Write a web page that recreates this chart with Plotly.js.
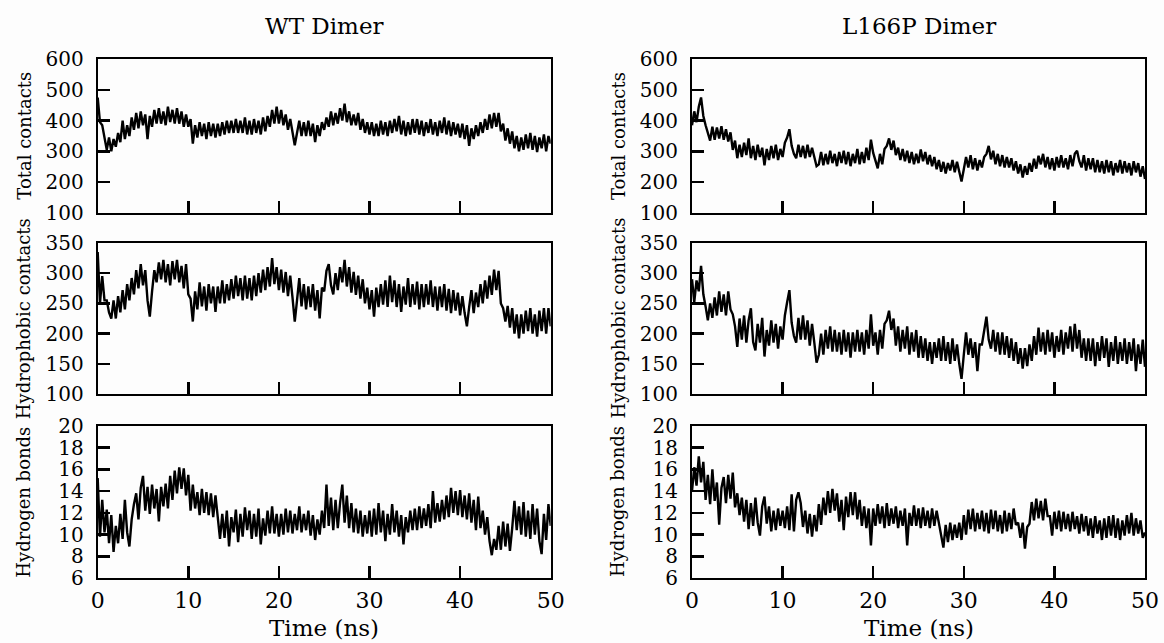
<!DOCTYPE html>
<html>
<head>
<meta charset="utf-8">
<script src="https://cdn.plot.ly/plotly-3.0.1.min.js"></script>
<style>html,body{margin:0;padding:0;background:#fdfdfd;}#chart{width:1164px;height:643px;}</style>
</head>
<body>
<div id="chart"></div>
<script>
// Sampling step of the trajectories (ns)
const timeStep = 0.25;

// WT Dimer — total contacts
const wtTotal = [
475,395,385,340,305,345,300,340,315,360,330,400,340,385,350,410,370,425,375,430,
385,420,340,415,380,435,390,440,390,430,385,445,395,435,390,440,390,430,380,420,
380,405,325,385,345,395,350,390,340,395,350,390,345,390,350,395,355,400,360,400,
360,405,360,400,360,410,355,400,355,405,360,400,355,410,365,415,380,435,390,445,
390,435,385,420,370,405,355,320,360,400,350,395,350,400,350,390,330,385,350,395,
370,410,380,430,385,425,390,440,400,455,395,430,385,420,385,425,370,405,360,395,
355,395,350,390,350,400,355,395,350,400,360,405,365,415,355,400,350,395,355,405,
360,405,355,400,350,395,360,405,355,395,350,400,360,410,355,400,350,395,355,390,
345,390,340,385,318,375,340,385,350,395,360,405,370,420,375,425,380,425,365,390,
335,375,325,365,310,350,300,345,305,355,310,360,305,350,298,345,310,355,300,350,325
];
// WT Dimer — hydrophobic contacts
const wtHydrophobic = [
335,250,295,255,255,235,225,255,225,262,235,272,240,282,255,292,265,305,275,315,
280,305,255,228,270,305,285,318,290,322,285,315,280,320,290,322,285,312,275,315,
265,258,220,270,240,285,245,278,238,282,250,278,236,278,250,288,250,282,255,290,
258,296,262,292,255,296,258,292,255,296,262,300,268,306,272,310,278,325,282,310,
272,306,268,302,262,296,260,220,255,292,245,282,240,278,244,282,238,272,225,276,
270,304,315,280,265,300,272,310,285,322,278,310,268,302,264,296,258,290,250,276,
240,272,228,276,244,282,248,288,244,296,252,288,244,282,236,278,248,292,244,282,
248,286,240,282,244,282,248,288,244,278,238,278,244,282,238,274,234,272,238,268,
230,262,234,212,244,272,234,268,244,282,250,288,258,296,264,306,272,304,250,242,
220,246,210,242,200,232,192,232,200,238,204,242,200,232,195,238,204,242,200,242,212
];
// WT Dimer — hydrogen bonds
const wtHbonds = [
15.2,9.8,13.2,10.2,12.3,9.2,11.8,8.4,10.8,9.2,11.9,9.6,13.2,10.2,8.9,11.4,12.8,13.8,11.4,14.3,
15.4,12.2,14.4,11.9,14.6,12.4,14.2,11.2,14.4,12.6,14.7,12.4,15.4,13.2,15.9,13.8,16.2,14.2,16.1,13.6,
15.5,12.2,14.6,12.4,13.9,11.8,14.2,12,13.9,11.8,13.8,11.6,13.6,11.4,9.6,11.9,9.7,12.2,8.9,11.6,
10.2,12.3,9.3,11.9,9.8,12.5,10.4,12.2,9.6,11.9,9.8,12.4,9.1,11.5,9.9,12.2,10.1,12.6,10.1,11.9,
9.8,11.9,10,12.4,10.2,12.2,10.1,11.9,10.4,12.6,10.2,11.9,10.4,12.2,9.9,11.8,9.5,11.4,10,12.2,
10.6,14.6,10.8,13.4,10.4,13.2,10.6,12.9,14.6,11.1,13.6,10.6,12.9,10.2,12.4,10.1,12.2,9.8,11.8,10.1,
12.2,9.8,12.4,10,12.9,10.2,12.2,9.4,11.9,10,12.8,10.2,12.2,9.8,11.8,9.1,11.6,10.2,12.2,10.4,
12.4,10.4,12.6,10.6,12.4,10.8,12.8,10.6,14,11.1,12.9,11.2,13.2,11.4,13.6,11.6,14.3,12,14,11.8,
14.1,11.6,13.6,11.4,13.8,11.1,13.2,10.4,13.5,10.6,12.2,10,11.6,9.4,8.1,9.6,8.6,10.8,8.6,11.2,
8.9,11,8.5,10.6,13.1,10.4,12.6,10,13,9.8,12.2,9.6,12.8,10,12.4,9.4,8.2,11.9,9.5,12.8,10.8
];
// L166P Dimer — total contacts
const mutTotal = [
385,430,395,445,475,415,385,355,335,380,338,378,342,382,338,372,332,362,305,335,
278,322,282,328,288,342,278,318,272,322,282,312,255,308,272,318,278,322,272,308,
282,328,345,372,318,292,278,322,282,318,278,322,282,312,278,252,258,298,255,292,
258,302,262,292,252,298,262,302,258,298,252,292,262,308,258,298,262,312,272,338,
295,270,245,292,258,308,318,342,305,335,288,312,272,308,268,302,262,298,258,292,
262,306,268,298,258,288,252,282,242,272,234,266,228,262,238,272,232,266,228,202,
242,282,248,288,242,278,238,272,248,282,292,318,274,302,258,292,252,288,248,282,
248,278,238,268,228,258,215,252,224,262,234,276,244,286,258,292,248,282,242,278,
238,282,248,288,248,278,242,288,252,292,302,268,248,288,238,278,242,278,232,272,
232,268,228,272,232,268,222,262,232,272,228,268,232,262,222,268,232,262,218,252,210
];
// L166P Dimer — hydrophobic contacts
const mutHydrophobic = [
290,252,288,270,312,265,245,222,250,226,260,230,270,236,265,230,270,240,232,212,
178,225,190,230,185,222,242,186,172,216,185,226,162,206,180,222,185,216,175,212,
190,230,252,272,218,196,185,226,190,230,190,222,180,216,185,152,165,200,165,206,
175,212,170,206,170,202,165,206,170,202,160,202,170,206,170,202,165,206,175,232,
180,202,165,206,175,216,222,238,206,225,180,212,170,206,175,212,165,202,170,206,
160,196,160,192,155,186,150,186,160,192,155,196,155,186,150,192,155,182,150,125,
165,202,165,192,160,186,138,182,182,206,228,190,175,206,170,202,165,202,165,196,
160,192,155,186,150,176,142,176,146,182,155,196,165,210,170,202,165,206,170,202,
160,196,170,206,165,202,175,212,170,216,175,206,160,192,155,192,155,192,146,186,
155,196,160,192,145,186,155,196,150,186,155,192,150,186,155,192,138,182,150,190,145
];
// L166P Dimer — hydrogen bonds
const mutHbonds = [
14,16.2,14.5,17.2,14.8,16.7,13.2,15.5,12.8,16,13.1,14.8,10.9,14.3,15.3,12.9,15.5,13.3,15.7,12.5,
13.8,11.8,13.4,11.2,13.2,10.5,12.9,10.8,13.4,11.1,9.9,12.6,13.5,11,12.6,10.3,12.2,10.4,12.4,10.8,
12.2,10.6,12.6,10.4,13.7,10.3,13.2,13.9,12.9,10.7,12.2,10.1,11.9,9.8,11.8,10.3,12.8,10.9,13.4,11.8,
14,12,14.2,12.2,13.8,11.2,13.2,10.4,13.5,11.6,13.9,11.8,13.9,11.4,13.2,10.8,12.6,10.6,12.4,9,
12.4,10.8,12.8,11,12.6,10.6,12.9,10.8,12.4,11,12.6,10.6,12.2,10.8,12.4,9,12,10.8,12.7,10.8,
12.4,10.6,12.5,10.8,12.2,10.6,12.4,10.8,12.2,11,10.1,8.8,10.9,9.3,11.1,9.5,10.9,9.7,11.1,9.5,
11.8,10,12.3,10.5,12.4,10.3,12,10.5,12.2,10.3,12,10.1,12.3,10.5,12.2,10.3,11.8,10.1,12.2,10.3,
12,10.5,12.4,10.9,11.1,9.7,11.1,8.7,10.7,11,13,11.3,13.3,11.5,13.1,11.3,13.3,11.7,11.7,9.9,
12.1,10.5,12.2,10.3,12.1,10.5,11.9,10.3,12.1,10.5,11.7,10.1,11.9,10.3,11.7,9.9,11.5,9.7,11.7,10.1,
11.3,9.5,11.5,9.7,11.7,9.9,11.8,9.7,11.5,9.5,11.3,9.9,11.8,10.1,12,9.9,11.5,10.1,11.3,9.7,10.2
];

// Labels
const columnTitles = ['WT Dimer', 'L166P Dimer'];
const rowTitles = ['Total contacts', 'Hydrophobic contacts', 'Hydrogen bonds'];
const xTitle = 'Time (ns)';
const xTicks = [0, 10, 20, 30, 40, 50];
const yTicksTotal = [100, 200, 300, 400, 500, 600];
const yTicksHydrophobic = [100, 150, 200, 250, 300, 350];
const yTicksHbonds = [6, 8, 10, 12, 14, 16, 18, 20];

const FONT = 'DejaVu Serif';
const W = 1164, H = 643;
const colX = [[97.7, 550.7], [692, 1145]];
const rowY = [[59, 213], [243, 394], [426, 578]];

const series = [
  [wtTotal, mutTotal],
  [wtHydrophobic, mutHydrophobic],
  [wtHbonds, mutHbonds]
];
const yTickSets = [yTicksTotal, yTicksHydrophobic, yTicksHbonds];

const traces = [];
const layout = {
  width: W, height: H,
  margin: {l: 0, r: 0, t: 0, b: 0},
  paper_bgcolor: '#fdfdfd', plot_bgcolor: '#fdfdfd',
  showlegend: false,
  font: {family: FONT, color: '#000'},
  annotations: []
};

let k = 0;
for (let r = 0; r < 3; r++) {
  for (let c = 0; c < 2; c++) {
    k++;
    const xs = k === 1 ? 'x' : 'x' + k;
    const ys = k === 1 ? 'y' : 'y' + k;
    const vals = series[r][c];
    traces.push({
      x: vals.map((_, i) => i * timeStep),
      y: vals,
      xaxis: xs, yaxis: ys,
      type: 'scatter', mode: 'lines',
      line: {color: '#000', width: 2.4},
      hoverinfo: 'skip'
    });
    const yt = yTickSets[r];
    const common = {
      ticks: 'inside', ticklen: 12, tickwidth: 2.5, tickcolor: '#000',
      showline: true, linewidth: 2, linecolor: '#000', mirror: true,
      showgrid: false, zeroline: false, fixedrange: true,
      tickfont: {family: FONT, size: 20, color: '#000'}
    };
    layout[k === 1 ? 'xaxis' : 'xaxis' + k] = Object.assign({}, common, {
      domain: [colX[c][0] / W, colX[c][1] / W],
      anchor: ys,
      range: [0, 50],
      tickmode: 'array', tickvals: xTicks,
      showticklabels: r === 2,
      tickfont: {family: FONT, size: 22, color: '#000'},
      ticklabelstandoff: 2
    });
    layout[k === 1 ? 'yaxis' : 'yaxis' + k] = Object.assign({}, common, {
      domain: [1 - rowY[r][1] / H, 1 - rowY[r][0] / H],
      anchor: xs,
      range: [yt[0], yt[yt.length - 1]],
      tickmode: 'array', tickvals: yt,
      ticklabelstandoff: 8
    });
    // row (y-axis) titles
    layout.annotations.push({
      xref: 'paper', yref: 'paper',
      x: (colX[c][0] - 74) / W,
      y: 1 - ((rowY[r][0] + rowY[r][1]) / 2) / H,
      text: rowTitles[r], textangle: -90, showarrow: false,
      xanchor: 'center', yanchor: 'middle',
      font: {family: FONT, size: 18, color: '#000'}
    });
  }
}
for (let c = 0; c < 2; c++) {
  layout.annotations.push({
    xref: 'paper', yref: 'paper',
    x: (colX[c][0] + colX[c][1]) / 2 / W, y: 1 - 26 / H,
    text: columnTitles[c], showarrow: false,
    xanchor: 'center', yanchor: 'middle',
    font: {family: FONT, size: 23, color: '#000'}
  });
  layout.annotations.push({
    xref: 'paper', yref: 'paper',
    x: (colX[c][0] + colX[c][1]) / 2 / W, y: 1 - 628 / H,
    text: xTitle, showarrow: false,
    xanchor: 'center', yanchor: 'middle',
    font: {family: FONT, size: 23, color: '#000'}
  });
}

Plotly.newPlot('chart', traces, layout, {staticPlot: true, displayModeBar: false});
</script>
</body>
</html>
